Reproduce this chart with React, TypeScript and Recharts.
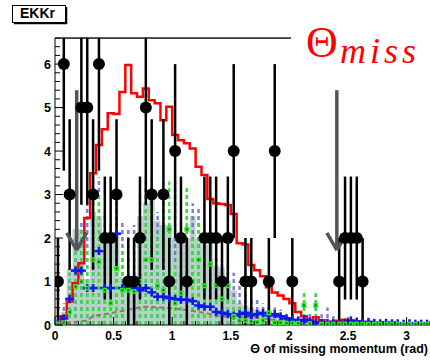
import React from 'react';
import { ComposedChart, Line, Area, Scatter, XAxis, YAxis, ErrorBar, ReferenceLine } from 'recharts';

const BIN_WIDTH = 0.05;
const X_MAX = 3.2;
const Y_MAX = 6.6;

// red MC histogram (bin contents, 0.05 rad bins)
const redMC = [
  0, 0.2, 0.54, 0.96, 1.42, 2.46, 3.49, 4.14, 4.5, 4.87,
  4.85, 5.36, 5.98, 5.33, 5.25, 5.44, 5.17, 5.1, 4.71, 5.02,
  4.37, 4.25, 4.18, 4.06, 3.64, 3.45, 2.9, 2.8, 2.78, 2.76,
  2.55, 1.88, 1.85, 1.38, 1.26, 1.12, 0.87, 0.75, 0.68, 0.6,
  0.5, 0.3, 0.2, 0.11, 0.18, 0.11, 0.06, 0.08, 0.1, 0.12,
  0.1, 0.08, 0.06, 0.07, 0.05, 0.05, 0.04, 0.05, 0.04, 0.03,
  0.04, 0.03, 0.03, 0.03,
];
// gray-green filled histogram
const grayMC = [
  0.05, 0.3, 1.3, 2.2, 2.2, 1.05, 2.6, 2.5, 2.0, 2.05,
  2.1, 1.1, 1.0, 1.05, 2.5, 2.8, 2.9, 2.4, 2.3, 2.3,
  2.0, 2.0, 2.0, 2.5, 2.0, 1.85, 1.85, 1.35, 1.3, 1.0,
  0.8, 0.5, 0.45, 0.4, 0.35, 0.3, 0.3, 0.25, 0.2, 0.15,
  0.12, 0.1, 0.12, 0.08, 0.1, 0.06, 0.05, 0.05, 0.05, 0.05,
  0.04, 0.04, 0.04, 0.04, 0.03, 0.03, 0.03, 0.03, 0.03, 0.03,
  0.02, 0.02, 0.02, 0.02,
];
// blue markers and top of their dashed error bars
const blueVal = [
  0.03, 0.15, 0.6, 1.25, 1.25, 0.85, 0.85, 1.7, 0.85, 0.85,
  2.1, 0.85, 0.85, 0.85, 0.8, 0.85, 0.75, 0.65, 0.65, 0.62,
  0.6, 0.58, 0.58, 0.55, 0.45, 0.42, 0.42, 0.3, 0.28, 0.25,
  0.22, 0.25, 0.28, 0.22, 0.25, 0.28, 0.22, 0.25, 0.2, 0.15,
  0.12, 0.1, 0.12, 0.08, 0.06, 0.05, 0.05, 0.06, 0.04, 0.05,
  0.1, 0.08, 0.06, 0.07, 0.05, 0.04, 0.05, 0.04, 0.04, 0.03,
  0.04, 0.03, 0.03, 0.03,
];
const blueTop = [
  0.1, 0.5, 1.2, 2.0, 2.4, 2.9, 3.4, 3.4, 2.6, 2.4,
  2.9, 2.4, 2.2, 2.3, 3.0, 3.4, 3.2, 2.6, 3.3, 2.6,
  3.4, 2.4, 3.2, 2.8, 2.7, 2.4, 1.9, 1.6, 1.5, 1.35,
  1.2, 1.0, 0.7, 0.65, 0.6, 0.5, 0.45, 0.4, 0.35, 0.3,
  0.25, 0.2, 0.7, 0.3, 0.7, 0.25, 0.4, 0.2, 0.15, 0.15,
  0.2, 0.15, 0.12, 0.12, 0.1, 0.1, 0.1, 0.08, 0.08, 0.06,
  0.06, 0.05, 0.05, 0.05,
];
// green markers and top of their dotted error bars
const greenVal = [
  0.02, 0.05, 0.3, 0.88, 1.0, 0.85, 1.5, 1.45, 0.8, 0.5,
  1.3, 0.8, 0.8, 0.77, 1.0, 1.5, 1.5, 0.9, 0.8, 2.2,
  0.5, 0.73, 2.2, 1.0, 1.5, 0.9, 1.4, 0.9, 0.6, 0.9,
  0.2, 0.1, 0.1, 0.08, 0.06, 0.1, 0.28, 0.05, 0.05, 0.04,
  0.04, 0.04, 0.45, 0.03, 0.45, 0.02, 0.02, 0.02, 0.02, 0.02,
  0.02, 0.02, 0.02, 0.02, 0.02, 0.02, 0.02, 0.02, 0.02, 0.02,
  0.02, 0.02, 0.02, 0.02,
];
const greenTop = [
  0.05, 0.3, 1.2, 1.9, 2.2, 1.8, 3.2, 3.0, 2.3, 1.5,
  2.6, 1.8, 1.6, 1.6, 2.2, 3.2, 3.0, 2.0, 3.1, 3.3,
  1.4, 1.6, 3.2, 2.0, 2.4, 1.8, 2.3, 1.7, 1.3, 1.7,
  0.6, 0.4, 0.35, 0.3, 0.2, 0.3, 0.45, 0.1, 0.1, 0.08,
  0.08, 0.08, 0.75, 0.06, 0.75, 0.04, 0.04, 0.04, 0.04, 0.04,
  0.04, 0.04, 0.04, 0.04, 0.04, 0.04, 0.04, 0.04, 0.04, 0.04,
  0.04, 0.04, 0.04, 0.04,
];
// brown dashed background curve
const brownVal = [
  0.0, 0.02, 0.05, 0.07, 0.09, 0.1, 0.2, 0.23, 0.25, 0.27,
  0.3, 0.32, 0.35, 0.38, 0.41, 0.42, 0.42, 0.4, 0.4, 0.39,
  0.38, 0.36, 0.34, 0.32, 0.3, 0.28, 0.25, 0.22, 0.2, 0.19,
  0.18, 0.18, 0.17, 0.17, 0.16, 0.15, 0.13, 0.12, 0.1, 0.09,
  0.08, 0.08, 0.07, 0.07, 0.06, 0.06, 0.05, 0.05, 0.05, 0.05,
  0.04, 0.04, 0.04, 0.04, 0.04, 0.04, 0.04, 0.04, 0.04, 0.04,
  0.04, 0.04, 0.04, 0.04,
];
// measured data (black points)
const dataX = [
  0.025, 0.075, 0.125, 0.225, 0.275, 0.325, 0.375, 0.425, 0.475, 0.525,
  0.625, 0.675, 0.725, 0.775, 0.825, 0.925, 0.975, 1.025, 1.075, 1.125,
  1.275, 1.325, 1.375, 1.425, 1.475, 1.525, 1.625, 1.675, 1.825, 1.875,
  2.025, 2.425, 2.475, 2.525, 2.575, 2.625,
];
const dataCounts = [
  1, 6, 3, 5, 5, 3, 6, 2, 2, 3,
  1, 1, 2, 5, 3, 3, 1, 4, 2, 1,
  2, 2, 2, 1, 2, 4, 1, 1, 1, 4,
  1, 1, 2, 2, 2, 1,
];
// cut arrows
const arrowX = [0.185, 2.405];
const arrowTop = 5.4;
const arrowTip = 1.72;

const xTickLabels = [0, 0.5, 1, 1.5, 2, 2.5, 3];
const yTickLabels = [0, 1, 2, 3, 4, 5, 6];

const r3 = (v: number) => Math.round(v * 1000) / 1000;

const histData = redMC.map((v, i) => ({ x: r3(i * BIN_WIDTH), red: v, fill: grayMC[i] }));
histData.push({ x: X_MAX, red: redMC[redMC.length - 1], fill: grayMC[grayMC.length - 1] });

const centers = redMC.map((_, i) => r3(i * BIN_WIDTH + BIN_WIDTH / 2));
const blueData = centers.map((x, i) => ({ x, y: blueVal[i], err: [blueVal[i], Math.max(0, blueTop[i] - blueVal[i])] }));
const greenData = centers.map((x, i) => ({ x, y: greenVal[i], err: [greenVal[i], Math.max(0, greenTop[i] - greenVal[i])] }));
const brownData = centers.map((x, i) => ({ x, y: brownVal[i] }));
const blackData = dataX.map((x, i) => ({ x, y: dataCounts[i], err: Math.sqrt(dataCounts[i]) }));

const xTicks: number[] = [];
for (let i = 0; i <= 32; i++) xTicks.push(r3(i * 0.1));
const yTicks: number[] = [];
for (let i = 0; i <= 33; i++) yTicks.push(r3(i * 0.2));

const FONT = '"Liberation Sans", Arial, Helvetica, sans-serif';
const SERIF = '"Liberation Serif", "DejaVu Serif", "Times New Roman", serif';

const isMajor = (v: number, list: number[]) => list.some((t) => Math.abs(t - v) < 1e-6);

const YTick = (props: any) => {
  const { x, y, payload } = props;
  const v = payload.value;
  const major = isMajor(v, yTickLabels);
  return (
    <g>
      <line x1={x} x2={x + (major ? 8 : 5)} y1={y} y2={y} stroke="#000" strokeWidth={1} />
      {major && (
        <text x={x - 4} y={y} dy="0.36em" textAnchor="end" style={{ fontFamily: FONT, fontWeight: 'bold', fontSize: 12.5 }} fill="#000">
          {v}
        </text>
      )}
    </g>
  );
};

const XTick = (props: any) => {
  const { x, y, payload } = props;
  const v = payload.value;
  const major = isMajor(v, xTickLabels);
  return (
    <g>
      <line x1={x} x2={x} y1={y} y2={y - (major ? 8 : 4)} stroke="#000" strokeWidth={1} />
      {major && (
        <text x={x} y={y + 15} textAnchor="middle" style={{ fontFamily: FONT, fontWeight: 'bold', fontSize: 12 }} fill="#000">
          {v}
        </text>
      )}
    </g>
  );
};

const DataDot = (p: any) => <circle cx={p.cx} cy={p.cy} r={6} fill="#000" />;
const BluePlus = (p: any) => (
  <g>
    <line x1={p.cx - 4.5} x2={p.cx + 4.5} y1={p.cy} y2={p.cy} stroke="#0a1ae8" strokeWidth={2.5} />
    <line x1={p.cx} x2={p.cx} y1={p.cy - 4} y2={p.cy + 4} stroke="#0a1ae8" strokeWidth={2.5} />
  </g>
);
const GreenMark = (p: any) => (
  <g>
    <rect x={p.cx - 2.5} y={p.cy - 2.5} width={5} height={5} fill="#2ee82e" />
    <rect x={p.cx - 1} y={p.cy - 1} width={2} height={2} fill="#2c5a2c" />
  </g>
);

export default function App() {
  const arrowDx = 0.085;
  const arrowDy = 0.4;
  return (
    <div style={{ position: 'absolute', left: 0, top: 0, width: 430, height: 361, background: '#fff' }}>
      <ComposedChart width={430} height={361} data={histData} margin={{ top: 38, right: 0, left: 0, bottom: 0 }}>
        <XAxis
          type="number"
          dataKey="x"
          domain={[0, X_MAX]}
          allowDataOverflow
          ticks={xTicks}
          interval={0}
          tickSize={0}
          tickMargin={0}
          tick={<XTick />}
          height={36}
          stroke="#000"
          axisLine={{ stroke: '#000', strokeWidth: 1 }}
        />
        <YAxis
          type="number"
          domain={[0, Y_MAX]}
          allowDataOverflow
          ticks={yTicks}
          interval={0}
          tickSize={0}
          tickMargin={0}
          tick={<YTick />}
          width={55}
          axisLine={{ stroke: '#000', strokeWidth: 1 }}
        />
        <Area type="stepAfter" dataKey="fill" fill="#b9d0c9" fillOpacity={1} stroke="none" isAnimationActive={false} />
        <Scatter data={blueData} dataKey="y" shape={<BluePlus />} isAnimationActive={false}>
          <ErrorBar dataKey="err" direction="y" width={0} stroke="#7070d4" strokeOpacity={0.9} strokeWidth={2.5} strokeDasharray="4 3" />
        </Scatter>
        <Scatter data={greenData} dataKey="y" shape={<GreenMark />} isAnimationActive={false}>
          <ErrorBar dataKey="err" direction="y" width={0} stroke="#2ee82e" strokeWidth={2.2} strokeDasharray="4 3" />
        </Scatter>
        <Line data={brownData} type="linear" dataKey="y" stroke="#9a7565" strokeWidth={2} strokeDasharray="5 3" dot={false} isAnimationActive={false} />
        <Line type="stepAfter" dataKey="red" stroke="#ff0000" strokeWidth={2.5} dot={false} isAnimationActive={false} />
        <Scatter data={blackData} dataKey="y" shape={<DataDot />} isAnimationActive={false}>
          <ErrorBar dataKey="err" direction="y" width={0} stroke="#000" strokeWidth={2.5} />
        </Scatter>
        <ReferenceLine y={Y_MAX} stroke="#000" strokeWidth={1} />
        {arrowX.map((ax) => (
          <ReferenceLine key={'s' + ax} segment={[{ x: ax, y: arrowTop }, { x: ax, y: arrowTip }]} stroke="#555" strokeWidth={3.5} />
        ))}
        {arrowX.map((ax) => (
          <ReferenceLine key={'l' + ax} segment={[{ x: ax - arrowDx, y: arrowTip + arrowDy }, { x: ax, y: arrowTip }]} stroke="#555" strokeWidth={3.5} />
        ))}
        {arrowX.map((ax) => (
          <ReferenceLine key={'r' + ax} segment={[{ x: ax + arrowDx, y: arrowTip + arrowDy }, { x: ax, y: arrowTip }]} stroke="#555" strokeWidth={3.5} />
        ))}
      </ComposedChart>
      <svg width={430} height={361} style={{ position: 'absolute', left: 0, top: 0, pointerEvents: 'none' }}>
        <rect x={0} y={0} width={430} height={37.5} fill="#fff" />
        <line x1={55} x2={291} y1={38} y2={38} stroke="#000" strokeWidth={1} />
        <rect x={12.5} y={5.5} width={53} height={17} fill="#fff" stroke="#000" strokeWidth={1} />
        <line x1={66.5} x2={66.5} y1={7} y2={24} stroke="#000" strokeWidth={1.5} />
        <line x1={14} x2={67} y1={23.5} y2={23.5} stroke="#000" strokeWidth={1.5} />
        <text x={20} y={18} style={{ fontFamily: FONT, fontWeight: 'bold', fontSize: 14 }} fill="#000">EKKr</text>
        <rect x={291} y={22} width={139} height={44} fill="#fff" />
        <text x={306} y={57} style={{ fontFamily: SERIF, fontSize: 44 }} fill="#ff0000">Θ</text>
        <text x={340} y={63} style={{ fontFamily: SERIF, fontStyle: 'italic', fontSize: 36, letterSpacing: 4 }} fill="#ff0000">miss</text>
        <text x={428} y={353} textAnchor="end" style={{ fontFamily: FONT, fontWeight: 'bold', fontSize: 12.5 }} fill="#000">Θ of missing momentum (rad)</text>
      </svg>
    </div>
  );
}
